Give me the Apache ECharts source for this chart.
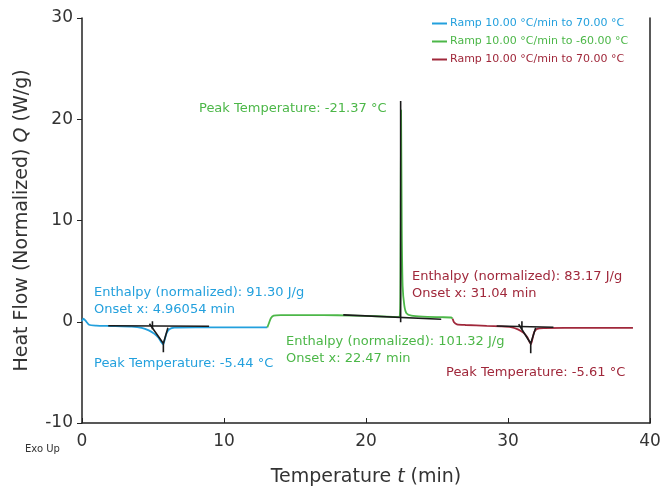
<!DOCTYPE html>
<html lang="en">
<head>
    <meta charset="UTF-8">
    <title>DSC ramp</title>
    <style>
        html, body { margin: 0; padding: 0; background: #fff; }
        #main { width: 661px; height: 488px; }
    </style>
</head>
<body>
<div id="main"></div>

<script src="https://cdn.jsdelivr.net/npm/echarts@6.0.0/dist/echarts.min.js"></script>
<script>
    // time in min, heat flow in W/g
    var blueRamp = [
        [0, 0.05], [0.1, 0.3], [0.25, 0.1], [0.5, -0.3], [1, -0.38], [2, -0.42], [3.5, -0.48],
        [4.2, -0.6], [4.7, -0.85], [5.1, -1.2], [5.4, -1.6], [5.6, -2.05], [5.72, -2.25], [5.82, -1.8],
        [5.95, -1.15], [6.15, -0.75], [6.5, -0.58], [8, -0.55], [10, -0.55], [12, -0.55], [13.05, -0.55]
    ];
    var greenRamp = [
        [13.05, -0.55], [13.15, -0.2], [13.3, 0.35], [13.5, 0.6], [14, 0.65], [16, 0.66], [18, 0.64],
        [20, 0.58], [21.5, 0.5], [22.35, 0.45], [22.42, 3], [22.47, 20.9], [22.52, 9], [22.58, 3.5],
        [22.7, 1.6], [22.85, 0.85], [23.2, 0.6], [24, 0.5], [25.3, 0.45], [26.0, 0.42], [26.1, 0.3]
    ];
    var redRamp = [
        [26.1, 0.3], [26.2, -0.05], [26.4, -0.25], [27, -0.32], [28.5, -0.4], [29.5, -0.45], [30.2, -0.52],
        [30.7, -0.75], [31.1, -1.1], [31.35, -1.5], [31.52, -2.0], [31.62, -2.2], [31.72, -1.7],
        [31.85, -1.0], [32.05, -0.7], [32.5, -0.62], [34, -0.6], [36, -0.6], [38.8, -0.6]
    ];

    // black analysis lines (baseline, onset tick, tangent, peak mark)
    var blueMarks = [
        [[1.85, -0.4], [8.95, -0.45]],
        [[4.96, 0.05], [4.96, -0.75]],
        [[4.75, -0.2], [5.73, -2.15], [6.05, -0.6]],
        [[5.73, -2.15], [5.73, -3.0]]
    ];
    var greenMarks = [
        [[18.4, 0.68], [25.3, 0.25]],
        [[22.44, 21.8], [22.44, -0.05]]
    ];
    var redMarks = [
        [[29.2, -0.42], [33.2, -0.55]],
        [[30.98, 0.05], [30.98, -0.75]],
        [[30.75, -0.25], [31.6, -2.15], [31.95, -0.6]],
        [[31.6, -2.15], [31.6, -3.1]]
    ];

    var seriesNames = ['Ramp 10.00 °C/min to 70.00 °C ', 'Ramp 10.00 °C/min to -60.00 °C', 'Ramp 10.00 °C/min to 70.00 °C'];
    var seriesColors = ['#23a0dd', '#4cb748', '#a0283b'];
    var xTicks = [0, 10, 20, 30, 40];
    var yTicks = [-10, 0, 10, 20, 30];

    var font = 'DejaVu Sans';

    var series = [];
    [blueRamp, greenRamp, redRamp].forEach(function (d, i) {
        series.push({
            name: seriesNames[i],
            type: 'line',
            data: d,
            showSymbol: false,
            smooth: 0.2,
            z: 2,
            lineStyle: { color: seriesColors[i], width: 1.8 },
            itemStyle: { color: seriesColors[i] }
        });
    });
    blueMarks.concat(greenMarks, redMarks).forEach(function (seg) {
        series.push({
            type: 'line',
            data: seg,
            showSymbol: false,
            silent: true,
            z: 3,
            lineStyle: { color: '#1a1a1a', width: 1.6 }
        });
    });

    function note(x, y, lines, color) {
        return {
            type: 'text',
            left: x,
            top: y,
            style: { text: lines, fill: color, font: '13px ' + font, lineHeight: 17 }
        };
    }

    var myChart = echarts.init(document.getElementById('main'), null, { renderer: 'canvas' });
    var option = {
        animation: false,
        grid: { left: 82, right: 11, top: 18, bottom: 65, outerBoundsMode: 'none' },
        legend: {
            orient: 'vertical',
            left: 427,
            top: 13,
            itemWidth: 15,
            itemHeight: 2,
            itemGap: 7,
            icon: 'rect',
            textStyle: { fontFamily: font, fontSize: 11, padding: [0, 0, 0, -2] },
            data: seriesNames.map(function (n, i) {
                return { name: n, textStyle: { color: seriesColors[i] } };
            })
        },
        xAxis: {
            type: 'value',
            min: xTicks[0],
            max: xTicks[xTicks.length - 1],
            interval: 10,
            name: '{n|Temperature }{i|t}{n| (min)}',
            nameLocation: 'middle',
            nameGap: 45,
            nameTextStyle: {
                rich: {
                    n: { fontFamily: font, fontSize: 19, color: '#333' },
                    i: { fontFamily: font, fontSize: 19, color: '#333', fontStyle: 'italic' }
                }
            },
            splitLine: { show: false },
            axisLine: { onZero: false, lineStyle: { color: '#222', width: 1.5 } },
            axisTick: { inside: true, length: 5, lineStyle: { color: '#222' } },
            axisLabel: { fontFamily: font, fontSize: 17, color: '#333', margin: 10 }
        },
        yAxis: [{
            type: 'value',
            min: yTicks[0],
            max: yTicks[yTicks.length - 1],
            interval: 10,
            name: '{n|Heat Flow (Normalized) }{i|Q}{n| (W/g)}',
            nameLocation: 'middle',
            nameGap: 50,
            nameTextStyle: {
                rich: {
                    n: { fontFamily: font, fontSize: 19, color: '#333' },
                    i: { fontFamily: font, fontSize: 19, color: '#333', fontStyle: 'italic' }
                }
            },
            splitLine: { show: false },
            axisLine: { show: true, onZero: false, lineStyle: { color: '#222', width: 1.5 } },
            axisTick: { show: true, length: 5, lineStyle: { color: '#222' } },
            axisLabel: { fontFamily: font, fontSize: 17, color: '#333', margin: 9 }
        }, {
            type: 'value',
            position: 'right',
            min: -10,
            max: 30,
            interval: 10,
            splitLine: { show: false },
            axisLine: { show: true, onZero: false, lineStyle: { color: '#222', width: 1.5 } },
            axisTick: { show: false },
            axisLabel: { show: false }
        }],
        graphic: [
            note(199, 100, 'Peak Temperature: -21.37 °C', seriesColors[1]),
            note(412, 268, 'Enthalpy (normalized): 83.17 J/g\nOnset x: 31.04 min', seriesColors[2]),
            note(94, 284, 'Enthalpy (normalized): 91.30 J/g\nOnset x: 4.96054 min', seriesColors[0]),
            note(94, 355, 'Peak Temperature: -5.44 °C', seriesColors[0]),
            note(286, 333, 'Enthalpy (normalized): 101.32 J/g\nOnset x: 22.47 min', seriesColors[1]),
            note(446, 364, 'Peak Temperature: -5.61 °C', seriesColors[2]),
            { type: 'text', left: 25, top: 444, style: { text: 'Exo Up', fill: '#333', font: '10px ' + font } }
        ],
        series: series
    };

    myChart.setOption(option);
</script>
</body>
</html>
